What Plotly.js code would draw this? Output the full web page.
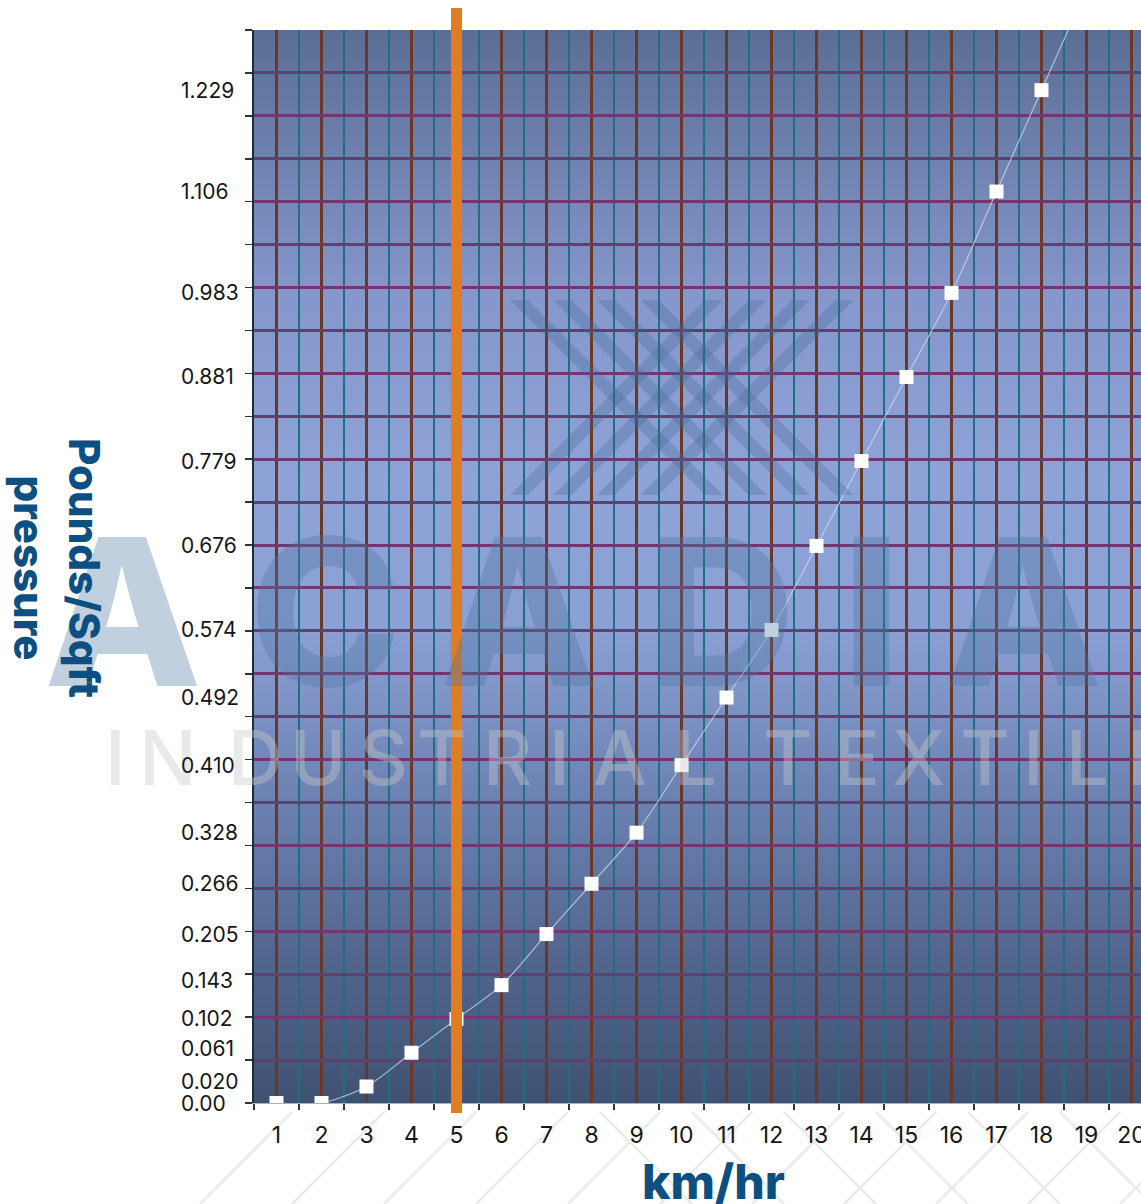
<!DOCTYPE html>
<html>
<head>
<meta charset="utf-8">
<script src="https://cdn.plot.ly/plotly-3.0.1.min.js"></script>
<style>
  html, body { margin: 0; padding: 0; background: #ffffff; overflow: hidden; }
  #chart { width: 1180px; height: 1204px; }
</style>
</head>
<body>
<div id="chart"></div>
<script>
// ---------------- DATA ----------------
const speedKmh = [1, 2, 3, 4, 5, 6, 7, 8, 9, 10, 11, 12, 13, 14, 15, 16, 17, 18, 19];
const pressurePsf = [0.000, 0.000, 0.020, 0.061, 0.102, 0.143, 0.205, 0.266, 0.328, 0.410,
                     0.492, 0.574, 0.676, 0.779, 0.881, 0.983, 1.106, 1.229, 1.352];
const yLabelValues = [0.000, 0.020, 0.061, 0.102, 0.143, 0.205, 0.266, 0.328, 0.410,
                      0.492, 0.574, 0.676, 0.779, 0.881, 0.983, 1.106, 1.229];
const yLabelTexts = ["0.00", "0.020", "0.061", "0.102", "0.143", "0.205", "0.266", "0.328", "0.410",
                     "0.492", "0.574", "0.676", "0.779", "0.881", "0.983", "1.106", "1.229"];
const xTickValues = [1, 2, 3, 4, 5, 6, 7, 8, 9, 10, 11, 12, 13, 14, 15, 16, 17, 18, 19, 20];
const xTickTexts = ["1", "2", "3", "4", "5", "6", "7", "8", "9", "10",
                    "11", "12", "13", "14", "15", "16", "17", "18", "19", "20"];
const highlightSpeed = 5;
const xTitle = "km/hr";
const yTitle = "Pounds/Sqft<br>pressure";
const brandWord = ["A", "C", "A", "D", "I", "A"];
const brandSub = ["I", "N", "D", "U", "S", "T", "R", "I", "A", "L", "T", "E", "X", "T", "I", "L", "E"];

// ---------------- LAYOUT GEOMETRY ----------------
const W = 1180, H = 1204;
const ML = 254, MR = 8, MT = 30, MB = 101;
const PW = W - ML - MR, PH = H - MT - MB;
const px = x => (x - ML) / PW;          // pixel -> paper x
const py = y => 1 - (y - MT) / PH;      // pixel -> paper y
const FONT = 'Inter, "Open Sans", "DejaVu Sans", sans-serif';
const labelNudge = {"0.020": 5, "0.061": 4, "0.143": 5};

// background gradient for the plot area
const gradSvg =
  '<svg xmlns="http://www.w3.org/2000/svg" width="100" height="1000" preserveAspectRatio="none">' +
  '<defs><linearGradient id="g" x1="0" y1="0" x2="0" y2="1">' +
  '<stop offset="0" stop-color="#5a6e95"/>' +
  '<stop offset="0.25" stop-color="#8597cc"/>' +
  '<stop offset="0.42" stop-color="#8ea3d8"/>' +
  '<stop offset="0.56" stop-color="#8a9fd4"/>' +
  '<stop offset="0.72" stop-color="#6b81b1"/>' +
  '<stop offset="0.86" stop-color="#52668f"/>' +
  '<stop offset="1" stop-color="#405272"/>' +
  '</linearGradient></defs><rect width="100" height="1000" fill="url(#g)"/></svg>';
const gradSrc = 'data:image/svg+xml;charset=utf-8,' + encodeURIComponent(gradSvg);

// ---------------- SHAPES (decoration + highlight) ----------------
const shapes = [];
const hatchColor = '#ebebeb';
for (let k = 0; k < 11; k++) {
  const xb = 200 + 92 * k;
  shapes.push({type: 'line', xref: 'paper', yref: 'paper', layer: 'below',
    x0: px(xb), y0: py(1204), x1: px(xb + 92), y1: py(1112),
    line: {color: hatchColor, width: 2.5}});
}
for (let k = 0; k < 7; k++) {
  const xt = 600 + 92 * k;
  shapes.push({type: 'line', xref: 'paper', yref: 'paper', layer: 'below',
    x0: px(xt), y0: py(1112), x1: px(xt + 92), y1: py(1204),
    line: {color: hatchColor, width: 2.5}});
}
const logoFill = 'rgba(60,100,145,0.28)';
for (let k = 0; k < 4; k++) {
  const a = 510 + 43.5 * k, w = 18, h = 195;
  const p1 = `M ${px(a)} ${py(300)} L ${px(a + w)} ${py(300)} L ${px(a + w + h)} ${py(300 + h)} L ${px(a + h)} ${py(300 + h)} Z`;
  const p2 = `M ${px(a)} ${py(495)} L ${px(a + w)} ${py(495)} L ${px(a + w + h)} ${py(495 - h)} L ${px(a + h)} ${py(495 - h)} Z`;
  [p1, p2].forEach(p => shapes.push({type: 'path', xref: 'paper', yref: 'paper', layer: 'above',
    path: p, fillcolor: logoFill, line: {width: 0}}));
}
shapes.push({type: 'line', xref: 'x', yref: 'paper', layer: 'above',
  x0: highlightSpeed, x1: highlightSpeed, y0: py(1113), y1: py(8),
  line: {color: '#e07c22', width: 11}});

// ---------------- ANNOTATIONS ----------------
const annotations = [];
const brandCenters = [123, 325, 519, 721, 871, 1024];
brandWord.forEach((ch, i) => annotations.push({
  xref: 'paper', yref: 'paper', x: px(brandCenters[i]), y: py(611),
  xanchor: 'center', yanchor: 'middle', showarrow: false, text: ch,
  font: {family: FONT, size: 205, weight: 800, color: 'rgba(72,118,158,0.34)'}
}));
const subCenters = [115, 167, 255, 318, 383, 442, 507, 559, 620, 695, 788, 857, 918, 985, 1033, 1087, 1150];
brandSub.forEach((ch, i) => annotations.push({
  xref: 'paper', yref: 'paper', x: px(subCenters[i]), y: py(757),
  xanchor: 'center', yanchor: 'middle', showarrow: false, text: ch,
  font: {family: FONT, size: 76, weight: 500, color: 'rgba(200,200,200,0.4)'}
}));
yLabelValues.forEach((v, i) => annotations.push({
  xref: 'paper', yref: 'y', x: px(179), y: v, xanchor: 'left', yanchor: 'middle',
  showarrow: false, text: yLabelTexts[i], yshift: labelNudge[yLabelTexts[i]] || 0,
  font: {family: FONT, size: 21, color: '#161616'}
}));
annotations.push({
  xref: 'paper', yref: 'paper', x: px(57), y: py(568), xanchor: 'center', yanchor: 'middle',
  showarrow: false, textangle: 90, text: yTitle, align: 'center',
  font: {family: FONT, size: 42, weight: 800, color: '#0c4f80'}
});
// x axis title
annotations.push({
  xref: 'paper', yref: 'paper', x: px(713), y: py(1181), xanchor: 'center', yanchor: 'middle',
  showarrow: false, text: xTitle,
  font: {family: FONT, size: 48, weight: 800, color: '#0c4f80'}
});

// ---------------- TRACE ----------------
const trace = {
  type: 'scatter', mode: 'lines+markers',
  x: speedKmh, y: pressurePsf,
  line: {shape: 'spline', smoothing: 0.8, color: 'rgba(205,220,235,0.8)', width: 1.1},
  marker: {symbol: 'square', size: 14, color: '#ffffff', line: {width: 0}},
  cliponaxis: true, hoverinfo: 'x+y'
};

const layout = {
  width: W, height: H,
  margin: {l: ML, r: MR, t: MT, b: MB},
  paper_bgcolor: '#ffffff', plot_bgcolor: 'rgba(0,0,0,0)',
  showlegend: false,
  font: {family: FONT, color: '#161616'},
  images: [{source: gradSrc, xref: 'paper', yref: 'paper', x: 0, y: 1, sizex: 1, sizey: 1,
            xanchor: 'left', yanchor: 'top', sizing: 'stretch', layer: 'below'}],
  xaxis: {
    range: [0.5, 20.9], tickmode: 'array', tickvals: xTickValues, ticktext: xTickTexts,
    ticks: 'outside', ticklen: 11, tickcolor: 'rgba(0,0,0,0)',
    tickfont: {family: FONT, size: 23, color: '#161616'},
    showgrid: true, gridcolor: '#6c3826', gridwidth: 3.5,
    minor: {tick0: 0.5, dtick: 1, ticks: 'outside', ticklen: 6, tickwidth: 1.5, tickcolor: '#333333',
            showgrid: true, gridcolor: '#1f6e82', gridwidth: 1.5},
    showline: true, linecolor: '#a3b4c6', linewidth: 1,
    zeroline: false, fixedrange: true
  },
  yaxis: {
    range: [0, 1.302], tick0: 0, dtick: 1.302 / 25,
    ticks: 'outside', ticklen: 7, tickwidth: 1.5, tickcolor: '#333333',
    showticklabels: false,
    showgrid: true, gridcolor: '#6b3a6e', gridwidth: 3,
    showline: true, linecolor: '#1d2c3a', linewidth: 2,
    zeroline: false, fixedrange: true
  },
  shapes: shapes,
  annotations: annotations
};

Plotly.newPlot('chart', [trace], layout, {displayModeBar: false, staticPlot: true});
</script>
</body>
</html>
